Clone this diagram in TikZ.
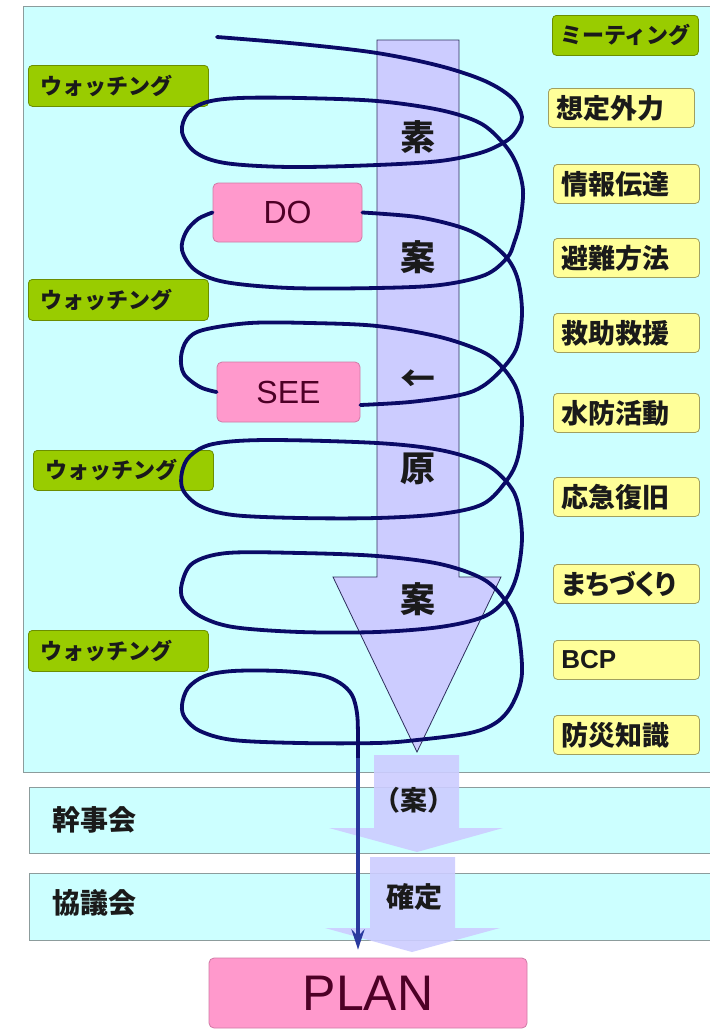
\documentclass[tikz,border=0pt]{standalone}
\usepackage{fontspec}
\setmainfont{Liberation Sans}
\newfontfamily\jp{Noto Sans CJK JP}
\newfontfamily\jpp{Noto Sans CJK JP}[RawFeature=+palt]
\usetikzlibrary{arrows.meta,calc}
\definecolor{panel}{HTML}{CCFFFF}
\definecolor{panelline}{HTML}{8C9C9C}
\definecolor{grn}{HTML}{99CC00}
\definecolor{grnline}{HTML}{6B8E00}
\definecolor{ylw}{HTML}{FFFF99}
\definecolor{ylwline}{HTML}{A0A060}
\definecolor{pnk}{HTML}{FF99CC}
\definecolor{pnkline}{HTML}{D07AA6}
\definecolor{pnktext}{HTML}{4D0026}
\definecolor{lav}{HTML}{CCCCFF}
\definecolor{lavline}{HTML}{2E2E5C}
\definecolor{navy}{HTML}{0A0A66}
\definecolor{arrowblue}{HTML}{2A3A9E}
\definecolor{jptext}{HTML}{1A1A1A}
\begin{document}
\begin{tikzpicture}[x=1pt,y=-1pt,
  greenbox/.style={draw=grnline, fill=grn, rounded corners=4pt, line width=0.8pt, anchor=north west,
    minimum height=41pt, inner xsep=12pt, inner ysep=0pt, text width=156pt, align=left, text=jptext,
    font=\jp\bfseries\fontsize{22}{22}\selectfont},
  meetbox/.style={draw=grnline, fill=grn, rounded corners=4pt, line width=0.8pt, anchor=north west,
    minimum width=146pt, minimum height=40pt, inner sep=0pt, text=jptext,
    font=\jp\bfseries\fontsize{22}{22}\selectfont},
  ybox/.style={draw=ylwline, fill=ylw, rounded corners=4pt, line width=0.8pt, anchor=north west,
    minimum height=39pt, inner xsep=8pt, inner ysep=0pt, text width=130pt, align=left, text=jptext,
    font=\jp\bfseries\fontsize{27}{27}\selectfont},
  pinkbox/.style={draw=pnkline, fill=pnk, rounded corners=5pt, line width=0.8pt, text=pnktext,
    inner sep=0pt, font=\fontsize{32}{32}\selectfont},
  bigchar/.style={font=\jp\bfseries\fontsize{35}{35}\selectfont, inner sep=0pt, text=jptext},
  bandtext/.style={font=\jp\bfseries\fontsize{28}{28}\selectfont, inner sep=0pt, anchor=west, text=jptext},
  spiral/.style={draw=navy, line width=3.8pt, line cap=round, line join=round},
  bluearrow/.style={draw=arrowblue, line width=3.6pt, -{Stealth[length=20pt,width=13pt]}}
]
\fill[white] (0,0) rectangle (710,1029);
\useasboundingbox (0,0) rectangle (710,1029);

% panels and bands
\draw[panelline, fill=panel, line width=1pt] (23,6) rectangle (714,772);
\draw[panelline, fill=panel, line width=1pt] (29,787) rectangle (714,853);
\draw[panelline, fill=panel, line width=1pt] (29,873) rectangle (714,940);

% big arrow
\draw[lavline, fill=lav, line width=0.8pt] (377,40) -- (459,40) -- (459,577) -- (501,577) -- (417,752) -- (333,577) -- (377,577) -- cycle;
% lower arrows
\fill[lav, fill opacity=0.9] (374,755) -- (459,755) -- (459,828) -- (503,828) -- (417,852) -- (329,828) -- (374,828) -- cycle;
\fill[lav, fill opacity=0.9] (370,857) -- (455,857) -- (455,928) -- (500,928) -- (412,952) -- (325,928) -- (370,928) -- cycle;

% left green boxes
\node[greenbox] (w1) at (28,65) {ウォッチング};
\node[greenbox] (w2) at (28,279) {ウォッチング};
\node[greenbox, minimum height=40pt] (w3) at (33,450) {ウォッチング};
\node[greenbox] (w4) at (28,630) {ウォッチング};

% right boxes
\node[meetbox] (meet) at (552,15) {ミーティング};
\node[ybox] (y1) at (548,88) {想定外力};
\node[ybox] (y2) at (553,164) {情報伝達};
\node[ybox] (y3) at (553,238) {避難方法};
\node[ybox] (y4) at (553,313) {救助救援};
\node[ybox] (y5) at (553,393) {水防活動};
\node[ybox] (y6) at (553,477) {応急復旧};
\node[ybox] (y7) at (553,564) {\jpp\bfseries まちづくり};
\node[ybox, font=\bfseries\fontsize{26}{26}\selectfont] (y8) at (553,640) {BCP};
\node[ybox] (y9) at (553,715) {防災知識};

% DO / SEE
\node[pinkbox, minimum width=149pt, minimum height=59pt] (do) at (287.5,212.5) {DO};
\node[pinkbox, minimum width=143pt, minimum height=60pt] (see) at (288.5,392) {SEE};

% spiral
\coordinate (st) at (217,37);
\coordinate (turn) at (358,758);
\draw[spiral] plot[smooth, tension=0.55] coordinates {(st) (300,44) (377,53) (440,66) (485,81) (512,98) (522,117) (515,133) (503,143) (480,153) (440,161) (377,165) (290,167) (225,163) (195,152) (182,132) (188,113) (207,102) (240,98) (300,98) (377,101) (440,110) (480,123) (503,143) (516,163) (523,190) (520,222) (514,243) (507,258) (485,275) (440,285) (377,288) (290,288) (225,282) (195,270) (182,250) (186,232) (198,219) (do.west)};
\draw[spiral] plot[smooth, tension=0.55] coordinates {(do.east) (417,217) (460,227) (485,239) (507,258) (518,280) (522,313) (517,347) (503,368) (483,386) (460,395) (410,402) ([yshift=-13pt]see.east)};
\draw[spiral] plot[smooth, tension=0.55] coordinates {(see.west) (200,387) (184,374) (181,357) (187,340) (203,330) (250,323) (310,323) (377,326) (440,337) (483,352) (503,368) (517,390) (522,420) (518,457) (507,480) (483,504) (440,514) (377,518) (300,518) (233,515) (200,506) (183,490) (182,472) (190,456) (213,444) (267,440) (377,443) (440,450) (483,463) (505,480) (517,500) (522,537) (517,575) (505,600) (483,617) (440,627) (377,632) (300,632) (233,627) (200,616) (183,600) (182,583) (193,563) (227,553) (300,553) (377,556) (440,564) (483,579) (505,600) (517,625) (522,673) (513,703) (497,722) (470,733) (417,740) (377,743) (300,743) (233,740) (200,731) (185,718) (182,705) (188,688) (205,676) (233,671) (280,671) (320,675) (340,683) (352,695) (357,713) (358,735) (turn)};

% texts in big arrow
\node[bigchar] (t1) at (418,137) {素};
\node[bigchar] (t2) at (418,257) {案};
\node[bigchar] (t3) at (418,381) {←};
\node[bigchar] (t4) at (418,469) {原};
\node[bigchar] (t5) at (418,599) {案};

% bands text
\node[bandtext] (kanji) at (52,820) {幹事会};
\node[bandtext] (kyogi) at (52,903) {協議会};
\node[font=\jp\bfseries\fontsize{27}{27}\selectfont, inner sep=0pt, text=jptext] (an) at (414,800) {（案）};
\node[font=\jp\bfseries\fontsize{28}{28}\selectfont, inner sep=0pt, text=jptext] (kt) at (414,897) {確定};

% PLAN
\node[pinkbox, minimum width=318pt, minimum height=70pt, font=\fontsize{50}{50}\selectfont] (plan) at (368,993) {PLAN};
\draw[bluearrow] (turn) -- ([yshift=8pt]turn |- plan.north);
\end{tikzpicture}
\end{document}
